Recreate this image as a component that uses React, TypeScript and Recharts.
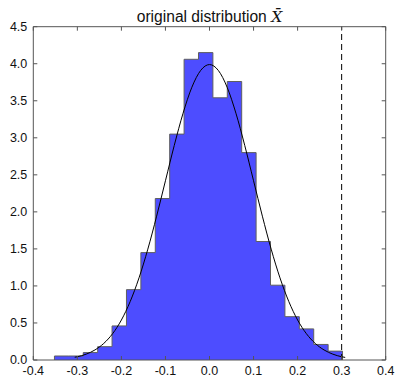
import React from 'react';
import {
  ComposedChart,
  Area,
  Line,
  XAxis,
  YAxis,
  ReferenceLine
} from 'recharts';

// histogram bins (left edges + final right edge) and densities
const BIN_EDGES = [
  -0.352, -0.3193, -0.2866, -0.2539, -0.2212, -0.1885, -0.1558, -0.1231, -0.0904, -0.0577,
  -0.025, 0.0077, 0.0404, 0.0731, 0.1058, 0.1385, 0.1712, 0.2039, 0.2366, 0.2693, 0.302
];
const BIN_HEIGHTS = [
  0.054, 0.054, 0.1, 0.18, 0.46, 0.95, 1.45, 2.18, 3.05, 4.06,
  4.15, 3.54, 3.76, 2.8, 1.6, 1.01, 0.585, 0.42, 0.21, 0.12
];

// fitted density curve
const CURVE_X = [
  -0.306, -0.3, -0.28, -0.26, -0.24, -0.22, -0.2, -0.18, -0.16, -0.14, -0.12, -0.1, -0.08, -0.06, -0.04, -0.02,
  0, 0.02, 0.04, 0.06, 0.08, 0.1, 0.12, 0.14, 0.16, 0.18, 0.2, 0.22, 0.24, 0.26, 0.28, 0.3, 0.308
];
const CURVE_Y = [
  0.037, 0.044, 0.079, 0.136, 0.224, 0.355, 0.54, 0.79, 1.109, 1.497, 1.942, 2.42, 2.897, 3.332, 3.683, 3.91,
  3.989, 3.91, 3.683, 3.332, 2.897, 2.42, 1.942, 1.497, 1.109, 0.79, 0.54, 0.355, 0.224, 0.136, 0.079, 0.044, 0.035
];

const X_TICKS = [-0.4, -0.3, -0.2, -0.1, 0, 0.1, 0.2, 0.3, 0.4];
const Y_TICKS = [0, 0.5, 1, 1.5, 2, 2.5, 3, 3.5, 4, 4.5];
const THRESHOLD = 0.3;

const histData = [
  { x: BIN_EDGES[0], h: 0 },
  ...BIN_HEIGHTS.map((h, i) => ({ x: BIN_EDGES[i], h })),
  { x: BIN_EDGES[BIN_EDGES.length - 1], h: BIN_HEIGHTS[BIN_HEIGHTS.length - 1] },
  { x: BIN_EDGES[BIN_EDGES.length - 1], h: 0 }
];
const curveData = CURVE_X.map((x, i) => ({ x, y: CURVE_Y[i] }));

const FONT = '"Liberation Sans", Arial, Helvetica, sans-serif';
const FRAME = '#555';

const BottomTick = (props: any) => {
  const { x, y, payload } = props;
  return (
    <g>
      <line x1={x} y1={y} x2={x} y2={y - 4} stroke={FRAME} />
      <text x={x} y={y + 14.5} textAnchor="middle" fontSize={12.5} fontFamily={FONT} fill="#111">
        {payload.value.toFixed(1)}
      </text>
    </g>
  );
};
const TopTick = (props: any) => (
  <line x1={props.x} y1={props.y} x2={props.x} y2={props.y + 4} stroke={FRAME} />
);
const LeftTick = (props: any) => {
  const { x, y, payload } = props;
  return (
    <g>
      <line x1={x} y1={y} x2={x + 4} y2={y} stroke={FRAME} />
      <text x={x - 6} y={y + 4.4} textAnchor="end" fontSize={12.5} fontFamily={FONT} fill="#111">
        {payload.value.toFixed(1)}
      </text>
    </g>
  );
};
const RightTick = (props: any) => (
  <line x1={props.x} y1={props.y} x2={props.x - 4} y2={props.y} stroke={FRAME} />
);

const App: React.FC = () => {
  return (
    <div style={{ position: 'absolute', left: 0, top: 0, width: 395, height: 376, background: '#fff' }}>
      <ComposedChart
        width={395}
        height={376}
        margin={{ top: 25.7, right: 8.3, left: 32.3, bottom: 15 }}
      >
        <XAxis
          dataKey="x"
          type="number"
          domain={[-0.4, 0.4]}
          ticks={X_TICKS}
          interval={0}
          height={1}
          tickSize={0}
          tickMargin={0}
          tickLine={false}
          axisLine={{ stroke: FRAME }}
          tick={<BottomTick />}
          allowDataOverflow
        />
        <XAxis
          xAxisId="top"
          orientation="top"
          dataKey="x"
          type="number"
          domain={[-0.4, 0.4]}
          ticks={X_TICKS}
          interval={0}
          height={1}
          tickSize={0}
          tickMargin={0}
          tickLine={false}
          axisLine={{ stroke: FRAME }}
          tick={<TopTick />}
          allowDataOverflow
        />
        <YAxis
          type="number"
          domain={[0, 4.5]}
          ticks={Y_TICKS}
          interval={0}
          width={1}
          tickSize={0}
          tickMargin={0}
          tickLine={false}
          axisLine={{ stroke: FRAME }}
          tick={<LeftTick />}
          allowDataOverflow
        />
        <YAxis
          yAxisId="right"
          orientation="right"
          type="number"
          domain={[0, 4.5]}
          ticks={Y_TICKS}
          interval={0}
          width={1}
          tickSize={0}
          tickMargin={0}
          tickLine={false}
          axisLine={{ stroke: FRAME }}
          tick={<RightTick />}
          allowDataOverflow
        />
        <Area
          data={histData}
          dataKey="h"
          type="stepAfter"
          fill="#4d4dff"
          fillOpacity={1}
          stroke="#5f5f5f"
          strokeWidth={1}
          isAnimationActive={false}
          dot={false}
          activeDot={false}
        />
        <Line
          data={curveData}
          dataKey="y"
          type="monotone"
          stroke="#000"
          strokeWidth={1}
          dot={false}
          activeDot={false}
          isAnimationActive={false}
        />
        <ReferenceLine x={THRESHOLD} stroke="#000" strokeWidth={1} strokeDasharray="6 4" />
      </ComposedChart>
      <svg width={395} height={30} style={{ position: 'absolute', left: 0, top: 0, pointerEvents: 'none' }}>
        <text x={209.5} y={21.5} textAnchor="middle" fontSize={15.6} fontFamily={FONT} fill="#111">
          original distribution{' '}
          <tspan fontFamily='"DejaVu Serif", serif' fontStyle="italic">X̄</tspan>
        </text>
      </svg>
    </div>
  );
};

export default App;
